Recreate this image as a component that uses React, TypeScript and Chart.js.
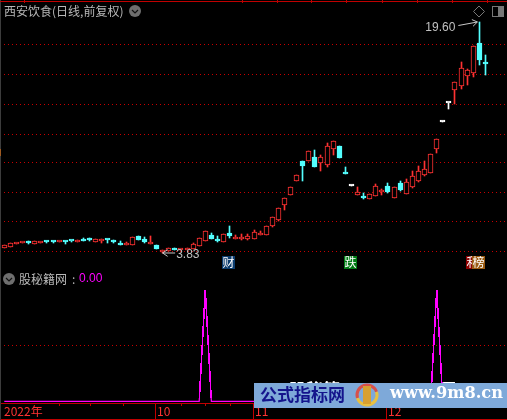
import React, { useEffect, useRef } from "react";
import { Chart, registerables } from "chart.js";

Chart.register(...registerables);

const title = "西安饮食(日线,前复权)";
const indicatorName = "股秘籍网";
const indicatorValue = "0.00";

const opens = [3.97,4.0,4.09,4.12,4.13,4.09,4.12,4.16,4.15,4.13,4.17,4.18,4.15,4.18,4.2,4.15,4.18,4.22,4.19,4.11,4.06,4.06,4.31,4.23,4.08,4.05,3.86,3.88,3.96,3.91,3.92,3.94,4.03,4.18,4.35,4.23,4.15,4.41,4.23,4.24,4.23,4.23,4.35,4.35,4.64,4.85,5.38,5.77,6.37,7.34,7.34,7.55,7.24,7.14,7.99,8.17,6.72,6.14,5.78,5.73,5.59,5.72,5.91,6.15,5.66,6.28,5.83,6.12,6.39,6.67,6.76,8.01,9.65,11.03,12.15,12.5,13.41,13.65,16.9,14.72];
const closes = [4.05,4.11,4.11,4.14,4.12,4.16,4.14,4.15,4.14,4.16,4.15,4.17,4.19,4.17,4.19,4.22,4.22,4.21,4.15,4.06,4.08,4.28,4.2,4.14,4.13,3.94,3.9,3.96,3.91,3.94,3.97,4.07,4.25,4.47,4.23,4.17,4.37,4.32,4.29,4.26,4.32,4.44,4.41,4.64,4.93,5.25,5.63,6.11,6.64,7.1,7.88,7.04,7.55,8.17,8.46,7.5,6.7,6.14,5.89,5.65,5.8,6.14,5.93,5.9,6.09,5.98,6.33,6.59,6.84,6.92,7.71,8.57,9.65,11.03,12.8,14.14,13.94,16.52,14.99,14.58];
const highs = [4.05,4.11,4.11,4.14,4.17,4.16,4.14,4.16,4.18,4.16,4.17,4.18,4.19,4.27,4.26,4.22,4.22,4.22,4.19,4.16,4.14,4.28,4.31,4.28,4.32,4.05,3.9,3.96,3.96,3.94,3.97,4.12,4.25,4.47,4.41,4.32,4.37,4.64,4.35,4.38,4.38,4.51,4.48,4.64,4.93,5.25,5.63,6.11,6.64,7.34,7.88,7.94,7.66,8.34,8.46,8.17,7.04,6.14,6.09,5.85,5.8,6.23,6.02,6.28,6.09,6.37,6.45,6.84,7.09,7.34,7.71,8.57,9.65,11.03,12.8,14.78,14.04,16.52,19.6,15.53];
const lows = [3.97,4.0,4.09,4.12,4.08,4.09,4.12,4.1,4.1,4.13,4.08,4.13,4.15,4.17,4.18,4.15,4.11,4.11,4.1,4.06,4.06,4.06,4.2,4.1,4.08,3.94,3.83,3.88,3.91,3.91,3.92,3.94,4.03,4.18,4.23,4.14,4.15,4.26,4.23,4.2,4.2,4.23,4.35,4.35,4.6,4.8,5.19,5.77,6.37,6.37,7.34,7.04,6.84,7.04,7.66,7.5,6.7,6.14,5.78,5.61,5.59,5.72,5.77,5.85,5.66,5.94,5.83,6.07,6.33,6.6,6.76,7.77,9.65,10.6,11.0,12.24,12.59,13.32,14.5,13.48];
const indicator = opens.map(() => 0);
const spikeIndexes = [33, 71];
const spikeValue = 100;
spikeIndexes.forEach((i) => { indicator[i] = spikeValue; });

const priceGrid = [3.88,4.77,5.88,7.24,8.88,10.95,13.48,16.7];
const indicatorGrid = [50];
const monthLabels = ["2022年", "10", "11", "12"];
const monthIndexes = [0, 25, 41, 63];
const weekTicks = [9, 14, 19.5, 29, 33, 37];
const lowLabel = { index: 26, value: 3.83, text: "3.83" };
const highLabel = { index: 78, value: 19.6, text: "19.60" };
const markers = [
  { index: 37, text: "财", bg: "#0b3c6e", fg: "#ffffff" },
  { index: 57, text: "跌", bg: "#007a14", fg: "#ffffff" },
  { index: 77, text: "利", bg: "#8c0000", fg: "#ffffff" },
  { index: 78, text: "榜", bg: "#9a5a10", fg: "#ffffff" },
];
const topTicks = [24, 242, 277, 311, 346, 382, 417, 452, 487];

const RED = "#ff3232";
const CYAN = "#54ffff";
const GRID = "#c80000";
const FONT = '"Noto Sans CJK SC", "Liberation Sans", sans-serif';
const xMin = -0.706;
const xMax = 82.54;

const colorOf = (i: number) => (opens[i] === closes[i] ? "#ffffff" : closes[i] > opens[i] ? RED : CYAN);

const snapBars = {
  id: "snapBars",
  afterDatasetsUpdate(chart: any) {
    chart.data.datasets.forEach((ds: any, d: number) => {
      if (ds.type !== "bar") return;
      chart.getDatasetMeta(d).data.forEach((el: any) => {
        el.x = Math.floor(el.x) + 0.5;
        el.y = Math.round(el.y);
        el.base = Math.round(el.base);
        if (el.base === el.y) el.base = el.y + 1;
      });
    });
  },
};

// The reference spikes are not anti-aliased: harden their edge pixels, above the flat zero line.
const hardenLine = {
  id: "hardenLine",
  afterDatasetsDraw(chart: any) {
    const { ctx, canvas } = chart;
    const h = 128;
    const img = ctx.getImageData(0, 0, canvas.width, h);
    const d = img.data;
    for (let i = 0; i < d.length; i += 4) {
      if (d[i + 2] > 0) {
        const on = d[i + 3] >= 85;
        d[i] = on ? 255 : 0;
        d[i + 1] = 0;
        d[i + 2] = on ? 255 : 0;
        d[i + 3] = on ? 255 : 0;
      }
    }
    ctx.putImageData(img, 0, 0);
  },
};

function chevron(ctx: CanvasRenderingContext2D, cx: number, cy: number) {
  ctx.fillStyle = "#6e6e6e";
  ctx.beginPath();
  ctx.arc(cx, cy, 6, 0, Math.PI * 2);
  ctx.fill();
  ctx.strokeStyle = "#111";
  ctx.lineWidth = 1.2;
  ctx.beginPath();
  ctx.moveTo(cx - 3, cy - 1);
  ctx.lineTo(cx, cy + 2);
  ctx.lineTo(cx + 3, cy - 1);
  ctx.stroke();
}

function arrow(ctx: CanvasRenderingContext2D, x0: number, y0: number, x1: number, y1: number) {
  ctx.strokeStyle = "#c8c8c8";
  ctx.lineWidth = 1;
  ctx.beginPath();
  ctx.moveTo(x0, y0);
  ctx.lineTo(x1, y1);
  const a = Math.atan2(y0 - y1, x0 - x1);
  ctx.moveTo(x1 + 6 * Math.cos(a - 0.6), y1 + 6 * Math.sin(a - 0.6));
  ctx.lineTo(x1, y1);
  ctx.lineTo(x1 + 6 * Math.cos(a + 0.6), y1 + 6 * Math.sin(a + 0.6));
  ctx.stroke();
}

const mainDecor = {
  id: "mainDecor",
  afterDraw(chart: any) {
    const { ctx, scales } = chart;
    const { x, y } = scales;
    ctx.save();
    ctx.fillStyle = "#3c3c3c";
    ctx.fillRect(0, 0, 1, 270);
    ctx.fillStyle = "#a05a20";
    ctx.fillRect(0, 149, 1, 7);
    ctx.fillStyle = "#c00000";
    ctx.fillRect(0, 1, 507, 1);
    ctx.fillRect(0, 270, 507, 1);
    topTicks.forEach((t) => ctx.fillRect(t, 0, 1, 3));
    ctx.textBaseline = "middle";
    ctx.fillStyle = "#b8b8b8";
    ctx.font = `12px ${FONT}`;
    ctx.fillText(title, 4, 11);
    chevron(ctx, 135, 11);

    ctx.strokeStyle = "#777";
    ctx.lineWidth = 1;
    ctx.beginPath();
    ctx.moveTo(479, 6); ctx.lineTo(484.5, 11.5); ctx.lineTo(479, 17); ctx.lineTo(473.5, 11.5); ctx.closePath();
    ctx.stroke();
    ctx.strokeRect(492.5, 6.5, 11, 10);
    ctx.fillStyle = "#777";
    ctx.fillRect(498, 7, 5, 9);

    ctx.fillStyle = "#c0c0c0";
    ctx.font = `12px "Liberation Sans", sans-serif`;
    const hx = x.getPixelForValue(highLabel.index);
    const hy = y.getPixelForValue(highLabel.value);
    ctx.textAlign = "right";
    ctx.fillText(highLabel.text, hx - 24, hy + 5.5);
    arrow(ctx, hx - 21, hy + 3.5, hx - 2, hy);
    const lx = x.getPixelForValue(lowLabel.index);
    const ly = y.getPixelForValue(lowLabel.value);
    ctx.textAlign = "left";
    ctx.fillText(lowLabel.text, lx + 13.5, ly + 2);
    arrow(ctx, lx + 12.5, ly, lx, ly);

    ctx.font = `12px ${FONT}`;
    ctx.textAlign = "center";
    markers.forEach((m) => {
      const left = Math.floor(x.getPixelForValue(m.index)) - 7;
      ctx.fillStyle = m.bg;
      ctx.fillRect(left, 256, 13, 13);
      ctx.fillStyle = m.fg;
      ctx.fillText(m.text, left + 6.5, 262.5);
    });
    ctx.restore();
  },
};

const subDecor = {
  id: "subDecor",
  afterDraw(chart: any) {
    const { ctx, scales } = chart;
    const { x } = scales;
    ctx.save();
    const T = 270;
    ctx.fillStyle = "#3c3c3c";
    ctx.fillRect(0, 0, 1, 133);
    chevron(ctx, 9, 9);
    ctx.textBaseline = "middle";
    ctx.font = `12px ${FONT}`;
    ctx.fillStyle = "#b8b8b8";
    ctx.fillText(indicatorName, 19, 9);
    ctx.fillText(":", 72, 9);
    ctx.fillStyle = "#ff00ff";
    ctx.font = `12px "Liberation Sans", sans-serif`;
    ctx.fillText(indicatorValue, 79, 9);

    // time axis
    ctx.fillStyle = "#000";
    ctx.fillRect(0, 403 - T, 507, 17);
    ctx.fillStyle = "#c00000";
    ctx.fillRect(0, 403 - T, 507, 1);
    ctx.fillRect(0, 419 - T, 507, 1);
    ctx.fillStyle = "#3c3c3c";
    ctx.fillRect(0, 403 - T, 1, 17);
    ctx.fillStyle = "#c00000";
    monthIndexes.slice(1).forEach((k) => {
      ctx.fillRect(Math.floor(x.getPixelForValue(k)) - 1, 403 - T, 1, 16);
    });
    weekTicks.forEach((k) => {
      ctx.fillRect(Math.round(x.getPixelForValue(k)), 403 - T, 1, 3);
    });
    ctx.fillStyle = RED;
    ctx.font = `12px ${FONT}`;
    monthLabels.forEach((l, i) => {
      const k = monthIndexes[i];
      ctx.fillText(l, i === 0 ? 4 : Math.floor(x.getPixelForValue(k)) + 1, 411.5 - T);
    });

    // watermark banner
    ctx.fillStyle = "#ffffff";
    ctx.font = `bold 17px ${FONT}`;
    ctx.fillText("股秘籍", 289, 389.5 - T);
    ctx.font = `bold 14px ${FONT}`;
    ctx.fillText("网", 442, 388 - T);
    ctx.fillStyle = "#7ea9d9";
    ctx.fillRect(254, 383 - T, 253, 25);
    ctx.fillStyle = "#14148c";
    ctx.font = `bold 17px ${FONT}`;
    ctx.fillText("公式指标网", 260, 394.5 - T);
    const cx = 367, cy = 395 - T;
    ctx.lineWidth = 3;
    ctx.strokeStyle = "#d8504a";
    ctx.beginPath(); ctx.arc(cx, cy, 10, Math.PI * 0.9, Math.PI * 1.9); ctx.stroke();
    ctx.strokeStyle = "#e8c040";
    ctx.beginPath(); ctx.arc(cx, cy, 10, Math.PI * 1.9, Math.PI * 2.9); ctx.stroke();
    ctx.fillStyle = "#d8a030";
    ctx.fillRect(cx - 4, cy - 9, 8, 18);
    ctx.fillStyle = "#ffffff";
    ctx.font = `bold 17px "DejaVu Serif", serif`;
    ctx.fillText("www.9m8.cn", 390, 394 - T, 113);
    ctx.restore();
  },
};

const App = () => {
  const mainRef = useRef<HTMLCanvasElement>(null);
  const subRef = useRef<HTMLCanvasElement>(null);

  useEffect(() => {
    const labels = opens.map((_, i) => i);
    const xScale = { type: "linear", min: xMin, max: xMax, display: false, offset: false };
    const hiddenTicks = (grid: number[]) => ({
      ticks: { display: false },
      border: { display: false, dash: [1, 3] },
      afterFit(s: any) { s.width = 0; },
      afterBuildTicks(s: any) { s.ticks = grid.map((value) => ({ value })); },
      grid: { color: GRID, lineWidth: 1, drawTicks: false, tickLength: 0 },
    });
    const base = {
      animation: false,
      responsive: false,
      layout: { padding: 0 },
      plugins: { legend: { display: false }, tooltip: { enabled: false } },
    };

    const main = new Chart(mainRef.current!, {
      data: {
        labels,
        datasets: [
          {
            type: "bar",
            data: labels.map((i) => ({ x: i, y: [lows[i], highs[i]] })),
            backgroundColor: labels.map(colorOf),
            borderWidth: 0,
            barThickness: 1,
            minBarLength: 1,
            grouped: false,
            order: 2,
          },
          {
            type: "bar",
            data: labels.map((i) => ({ x: i, y: [opens[i], closes[i]] })),
            backgroundColor: labels.map((i) => (closes[i] > opens[i] ? "#000000" : colorOf(i))),
            borderColor: labels.map(colorOf),
            borderWidth: 1,
            borderSkipped: false,
            barThickness: 5,
            minBarLength: 2,
            grouped: false,
            order: 1,
          },
        ],
      },
      options: {
        ...base,
        scales: {
          x: xScale,
          y: { type: "logarithmic", min: 3.396, max: 22.9, ...hiddenTicks(priceGrid) },
        },
      },
      plugins: [snapBars, mainDecor],
    } as any);

    const sub = new Chart(subRef.current!, {
      data: {
        labels,
        datasets: [
          {
            type: "line",
            data: labels.map((i) => ({ x: i, y: indicator[i] })),
            borderColor: "#ff00ff",
            borderWidth: 1.25,
            pointRadius: 0,
            tension: 0,
          },
        ],
      },
      options: {
        ...base,
        scales: {
          x: xScale,
          y: { type: "linear", min: -16.6, max: 117.9, ...hiddenTicks(indicatorGrid) },
        },
      },
      plugins: [hardenLine, subDecor],
    } as any);

    return () => {
      main.destroy();
      sub.destroy();
    };
  }, []);

  return (
    <div style={{ position: "absolute", left: 0, top: 0, width: 507, height: 420, background: "#000", overflow: "hidden" }}>
      <canvas ref={mainRef} width={507} height={270} style={{ position: "absolute", left: 0, top: 0, width: 507, height: 270 }} />
      <canvas ref={subRef} width={507} height={150} style={{ position: "absolute", left: 0, top: 270, width: 507, height: 150 }} />
    </div>
  );
};

export default App;
